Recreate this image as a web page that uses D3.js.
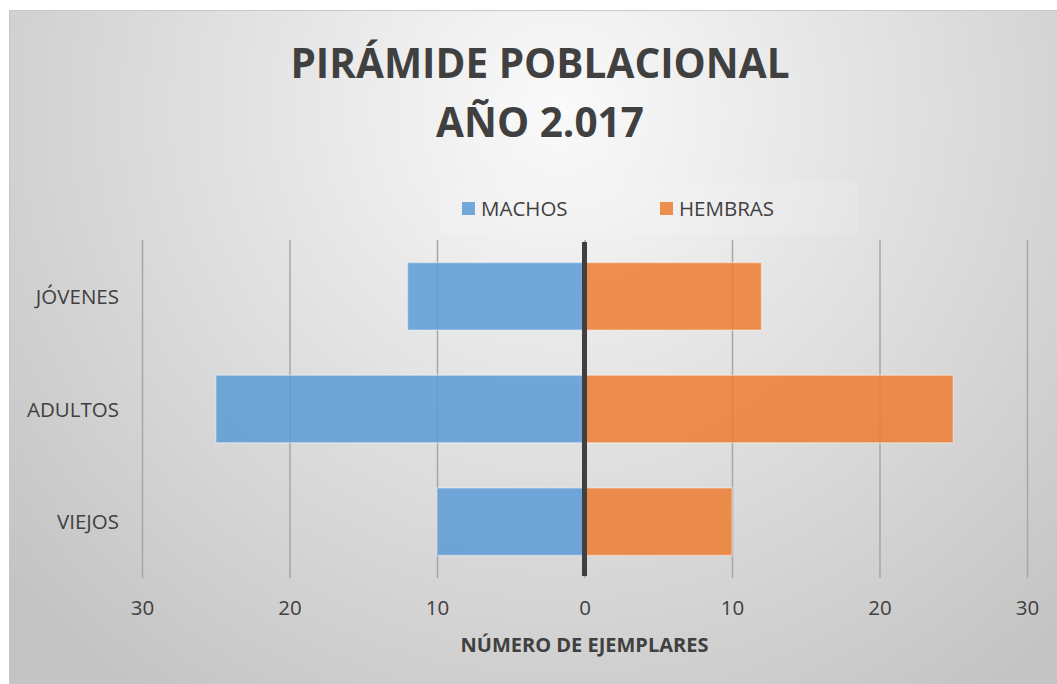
<!DOCTYPE html>
<html>
<head>
<meta charset="utf-8">
<script src="https://cdn.jsdelivr.net/npm/d3@7"></script>
<style>
  body { margin: 0; background: #ffffff; }
  text { font-family: "Open Sans", "Noto Sans", sans-serif; fill: #404040; }
</style>
</head>
<body>
<div id="chart"></div>
<script>
const width = 1057;
const height = 684;

// data
const categories = ["JÓVENES", "ADULTOS", "VIEJOS"];
const machos = [12, 25, 10];
const hembras = [12, 25, 10];
const tickValues = [-30, -20, -10, 0, 10, 20, 30];
const seriesNames = ["MACHOS", "HEMBRAS"];
const seriesColors = ["#5b9bd5", "#ed7d31"];
const titleLines = ["PIRÁMIDE POBLACIONAL", "AÑO 2.017"];
const axisTitle = "NÚMERO DE EJEMPLARES";

const plot = {left: 142, right: 1027, top: 240, bottom: 578};

var svg = d3.select("#chart").append("svg")
    .attr("width", width)
    .attr("height", height);

//background gradient
var defs = svg.append("defs");
var grad = defs.append("radialGradient")
    .attr("id", "bg")
    .attr("gradientUnits", "userSpaceOnUse")
    .attr("cx", 560).attr("cy", 110)
    .attr("r", 720);
grad.append("stop").attr("offset", "0%").attr("stop-color", "#fafafa");
grad.append("stop").attr("offset", "100%").attr("stop-color", "#c4c4c4");

svg.append("rect")
    .attr("x", 9.5).attr("y", 10.5)
    .attr("width", width).attr("height", height)
    .attr("fill", "url(#bg)")
    .attr("stroke", "#c8c8c8")
    .attr("stroke-width", 1);

var x = d3.scaleLinear()
    .domain([-30, 30])
    .range([plot.left, plot.right]);

var y = d3.scaleBand()
    .domain(categories)
    .range([plot.top, plot.bottom])
    .paddingInner(0.4)
    .paddingOuter(0.2);

//title
svg.append("text")
    .attr("x", 540)
    .attr("text-anchor", "middle")
    .style("font-weight", "bold")
    .style("font-size", "40.5px")
    .selectAll("tspan")
    .data(titleLines)
    .enter()
    .append("tspan")
    .attr("x", 540)
    .attr("y", (d, i) => 78 + i * 59)
    .text(d => d);

//legend
var legend = svg.append("g");
legend.append("rect")
    .attr("x", 440).attr("y", 182)
    .attr("width", 418).attr("height", 52)
    .attr("fill", "#ffffff").attr("opacity", 0.12);
var legendX = [462, 660];
seriesNames.forEach((name, i) => {
    legend.append("rect")
        .attr("x", legendX[i]).attr("y", 202)
        .attr("width", 13).attr("height", 13)
        .attr("fill", seriesColors[i])
        .attr("fill-opacity", 0.85);
    legend.append("text")
        .attr("x", legendX[i] + 19)
        .attr("y", 216)
        .style("font-size", "20.5px")
        .text(name);
});

//gridlines
var xAxis = d3.axisBottom(x)
    .tickValues(tickValues)
    .tickSize(-(plot.bottom - plot.top))
    .tickPadding(22)
    .tickFormat(d => Math.abs(d));

var gx = svg.append("g")
    .attr("transform", "translate(0," + plot.bottom + ")")
    .call(xAxis);
gx.select(".domain").remove();
gx.selectAll(".tick line")
    .attr("stroke", "#a6a6a6")
    .attr("stroke-width", 1.5);
gx.selectAll(".tick text")
    .style("font-family", "'Open Sans', sans-serif")
    .style("font-size", "20.5px")
    .attr("fill", "#404040");

//bars
var rows = svg.append("g").selectAll("g")
    .data(categories)
    .enter()
    .append("g");

rows.append("rect")
    .attr("x", (d, i) => x(-machos[i]))
    .attr("y", d => y(d))
    .attr("width", (d, i) => x(0) - x(-machos[i]))
    .attr("height", y.bandwidth())
    .attr("fill", seriesColors[0])
    .attr("fill-opacity", 0.85)
    .attr("stroke", "#ffffff")
    .attr("stroke-opacity", 0.4)
    .attr("stroke-width", 1.5);

rows.append("rect")
    .attr("x", x(0))
    .attr("y", d => y(d))
    .attr("width", (d, i) => x(hembras[i]) - x(0))
    .attr("height", y.bandwidth())
    .attr("fill", seriesColors[1])
    .attr("fill-opacity", 0.85)
    .attr("stroke", "#ffffff")
    .attr("stroke-opacity", 0.4)
    .attr("stroke-width", 1.5);

//center line
svg.append("line")
    .attr("x1", x(0)).attr("x2", x(0))
    .attr("y1", plot.top + 2).attr("y2", plot.bottom - 2)
    .attr("stroke", "#404040")
    .attr("stroke-width", 5);

//category labels
svg.append("g").selectAll("text")
    .data(categories)
    .enter()
    .append("text")
    .attr("x", 119)
    .attr("y", d => y(d) + y.bandwidth() / 2 + 7.5)
    .attr("text-anchor", "end")
    .style("font-size", "20.5px")
    .text(d => d);

//axis title
svg.append("text")
    .attr("x", x(0))
    .attr("y", 652)
    .attr("text-anchor", "middle")
    .style("font-weight", "bold")
    .style("font-size", "20px")
    .text(axisTitle);
</script>
</body>
</html>
